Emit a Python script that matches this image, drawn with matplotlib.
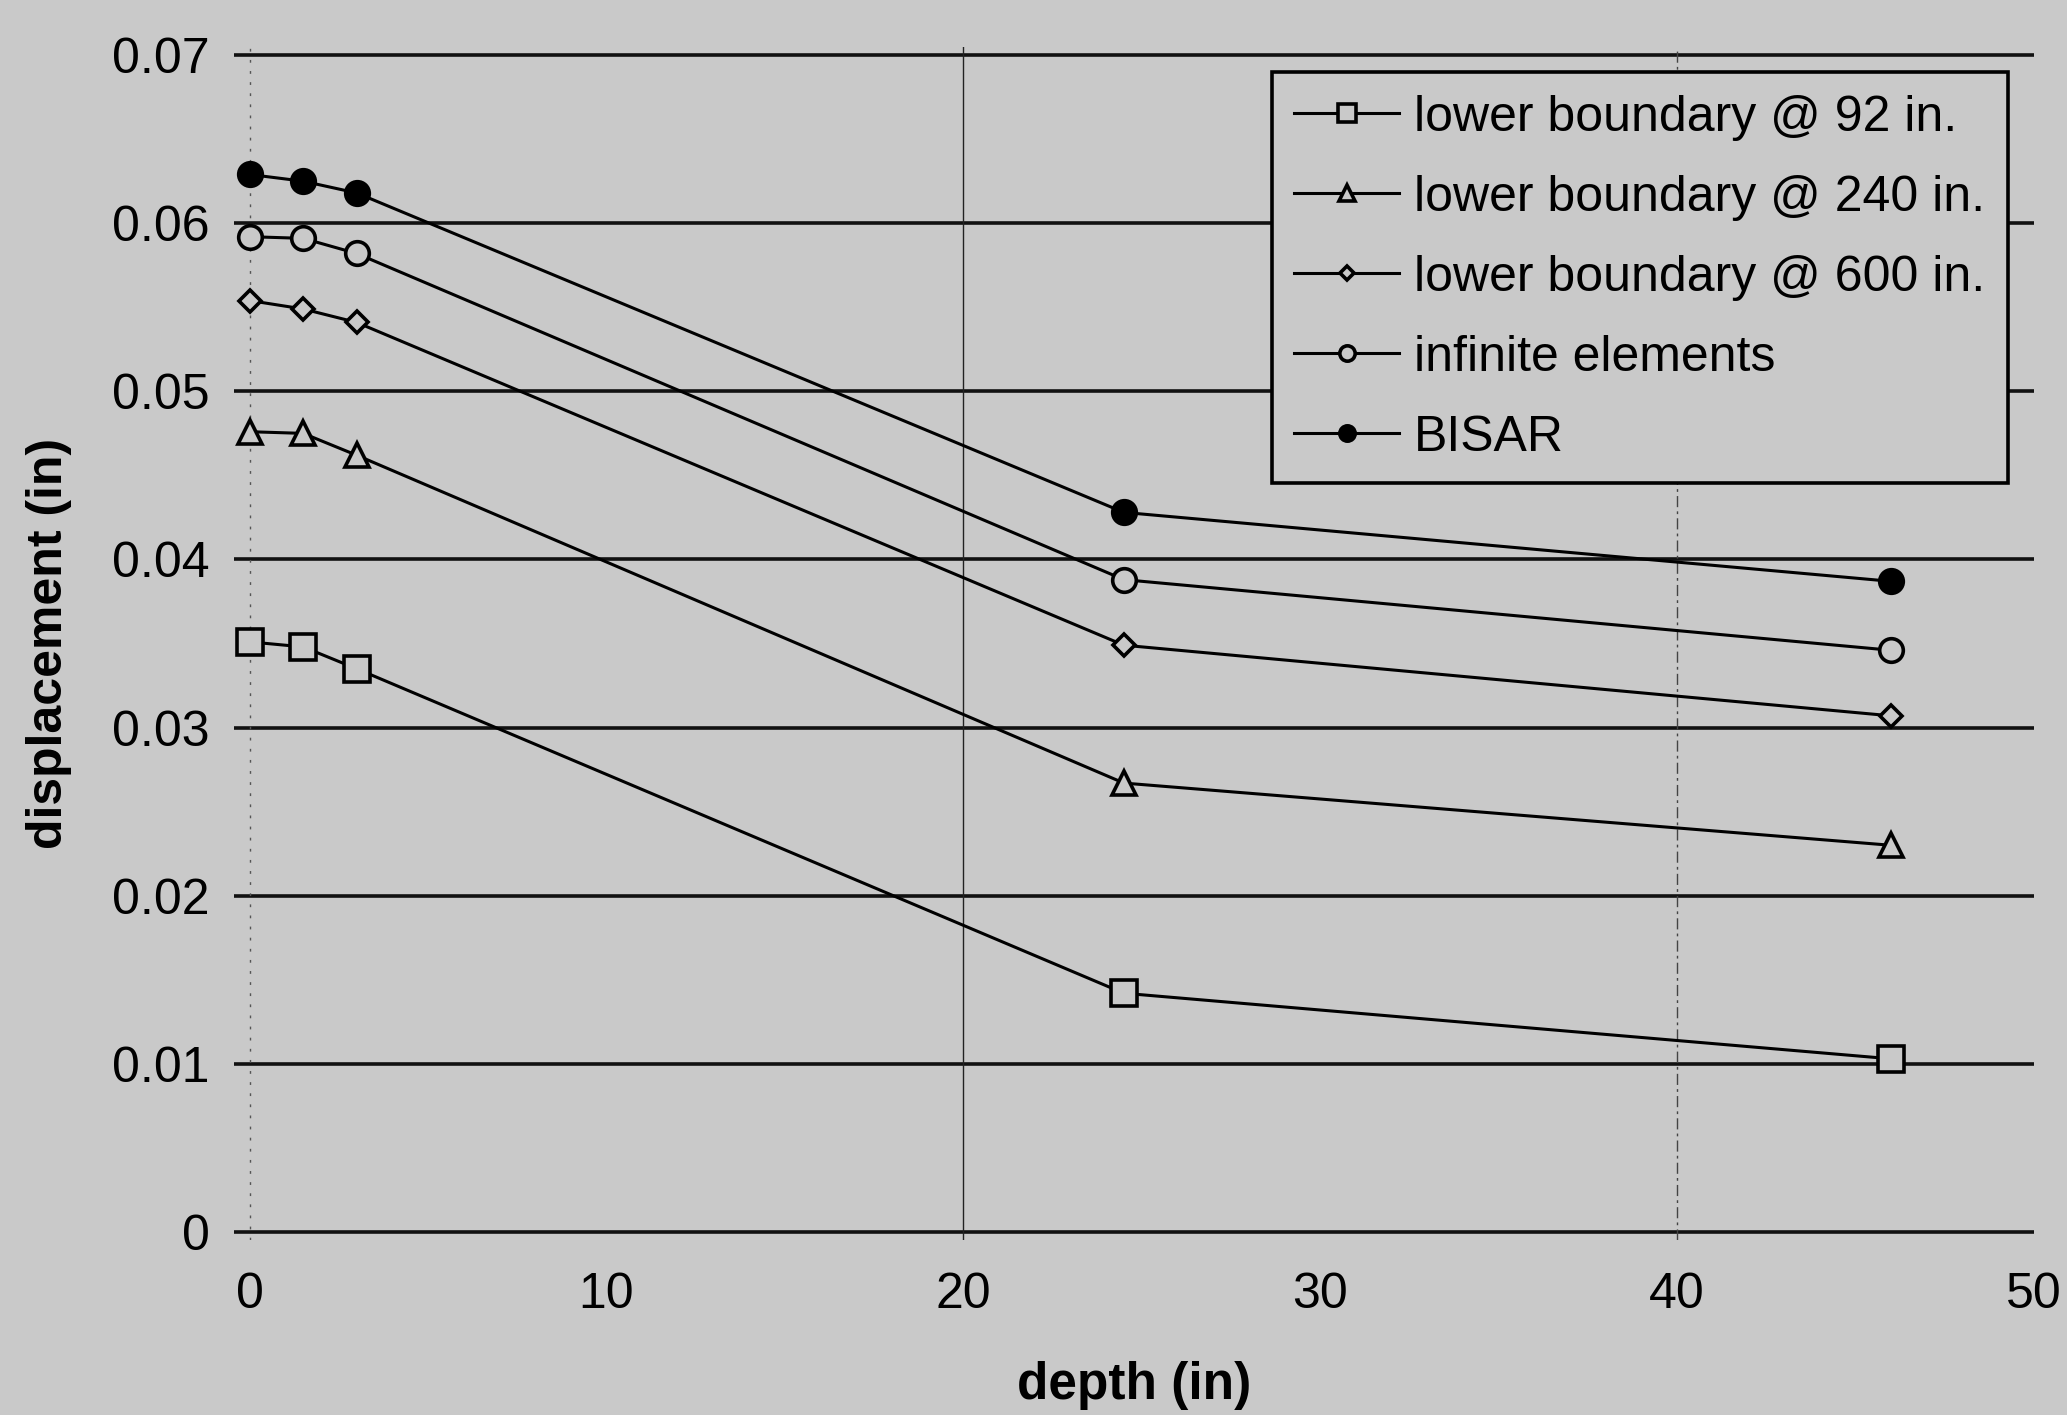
import matplotlib.pyplot as plt

# depth positions (in) and displacements (in)
depth = [0, 1.5, 3, 24.5, 46]
lb_92 = [0.0351, 0.0348, 0.0335, 0.0142, 0.0103]
lb_240 = [0.0476, 0.0475, 0.0462, 0.0267, 0.0230]
lb_600 = [0.0554, 0.0549, 0.0541, 0.0349, 0.0307]
infinite = [0.0592, 0.0591, 0.0582, 0.0388, 0.0346]
bisar = [0.0629, 0.0625, 0.0618, 0.0428, 0.0387]

labels = ['lower boundary @ 92 in.', 'lower boundary @ 240 in.',
          'lower boundary @ 600 in.', 'infinite elements', 'BISAR']
x_ticks = [0, 10, 20, 30, 40, 50]
y_ticks = [0, 0.01, 0.02, 0.03, 0.04, 0.05, 0.06, 0.07]
y_tick_labels = ['0', '0.01', '0.02', '0.03', '0.04', '0.05', '0.06', '0.07']

plt.rcParams['font.family'] = ['Liberation Sans', 'DejaVu Sans']
bg = '#c9c9c9'

fig = plt.figure(figsize=(20.67, 14.15), dpi=100, facecolor=bg)
ax = fig.add_axes([0.113, 0.1234, 0.871, 0.8436], facecolor=bg)

# grid: heavy horizontal lines, thin vertical ones
for y in y_ticks:
    ax.axhline(y, color='#111111', lw=2.6, zorder=1)
ax.axvline(0, color='#555555', lw=1.0, ls=(0, (2, 6)), zorder=1)
ax.axvline(20, color='#222222', lw=1.0, zorder=1)
ax.axvline(40, color='#444444', lw=1.0, ls=(0, (8, 3, 2, 3)), zorder=1)

style = dict(color='black', lw=2.2, mew=2.6, zorder=3)
ax.plot(depth, lb_92, marker='s', ms=19, mfc=bg, mec='black', label=labels[0], **style)
ax.plot(depth, lb_240, marker='^', ms=17, mfc=bg, mec='black', label=labels[1], **style)
ax.plot(depth, lb_600, marker='D', ms=11, mfc=bg, mec='black', label=labels[2], **style)
ax.plot(depth, infinite, marker='o', ms=17, mfc=bg, mec='black', label=labels[3], **style)
ax.plot(depth, bisar, marker='o', ms=17, mfc='black', mec='black', label=labels[4], **style)

ax.set_xlim(-0.45, 50)
ax.set_ylim(-0.0005, 0.0705)
ax.set_xticks(x_ticks)
ax.set_yticks(y_ticks)
ax.set_yticklabels(y_tick_labels)
ax.tick_params(length=0, labelsize=36)
ax.tick_params(axis='x', pad=23)
ax.tick_params(axis='y', pad=17)
for s in ax.spines.values():
    s.set_visible(False)

ax.set_xlabel('depth (in)', fontsize=37, fontweight='bold', labelpad=31)
ax.set_ylabel('displacement (in)', fontsize=36, fontweight='bold', labelpad=29)

leg = ax.legend(loc='upper right', bbox_to_anchor=(0.9856, 0.9787), borderaxespad=0,
                fontsize=36, markerscale=0.65, handlelength=2.1, handletextpad=0.3,
                labelspacing=0.68, borderpad=0.45, fancybox=False,
                facecolor=bg, edgecolor='black', framealpha=1)
leg.get_frame().set_linewidth(2.6)

fig.savefig('out.png', dpi=100, facecolor=bg)
